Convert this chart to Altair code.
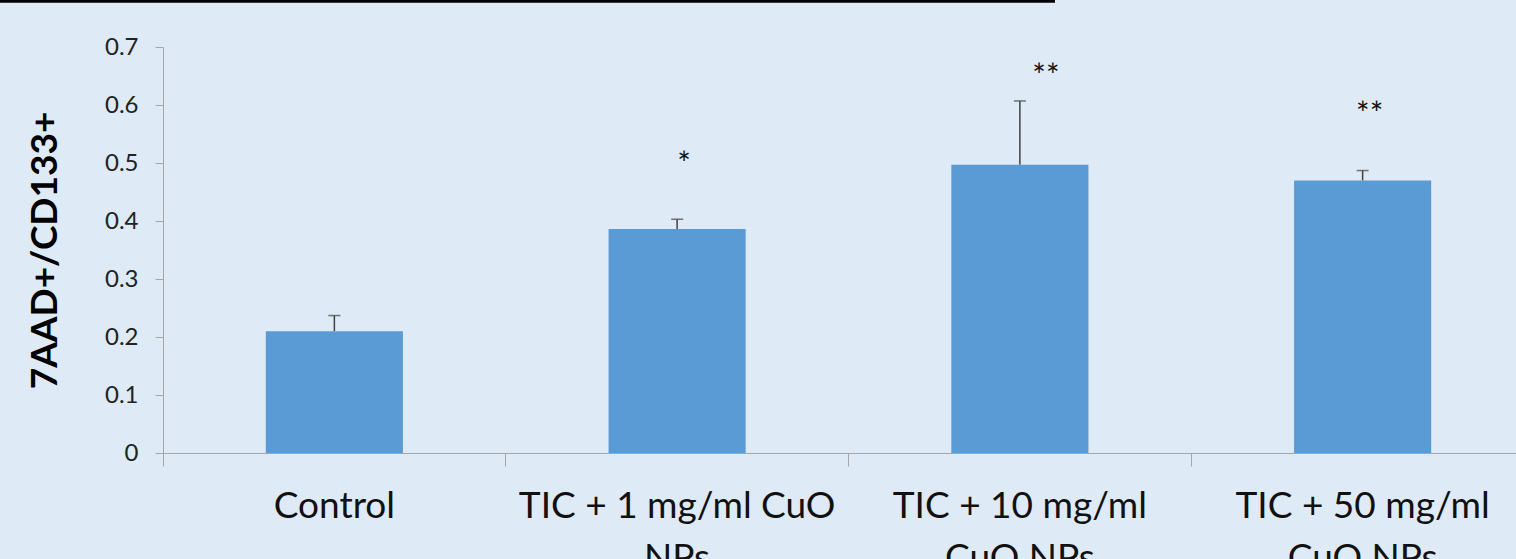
import altair as alt
import pandas as pd

categories = ["Control", "TIC + 1 mg/ml CuO NPs", "TIC + 10 mg/ml CuO NPs", "TIC + 50 mg/ml CuO NPs"]
label_lines = [["Control"], ["TIC + 1 mg/ml CuO", "NPs"], ["TIC + 10 mg/ml", "CuO NPs"], ["TIC + 50 mg/ml", "CuO NPs"]]
values = [0.210, 0.386, 0.497, 0.470]
errors = [0.027, 0.017, 0.110, 0.017]
stars = ["", "*", "**", "**"]
star_y = [None, 0.508, 0.660, 0.595]
star_dx = [0, 7, 26, 7]

df = pd.DataFrame({
    "cat": categories,
    "val": values,
    "hi": [v + e for v, e in zip(values, errors)],
})
sdf = pd.DataFrame({"cat": categories, "star": stars, "sy": star_y, "dx": star_dx}).dropna()

# label expression for multi-line labels
parts = []
for c, lines in zip(categories, label_lines):
    arr = "[" + ",".join("'" + l + "'" for l in lines) + "]"
    parts.append(f"datum.value == '{c}' ? {arr}")
label_expr = " : ".join(parts) + " : datum.value"

FONT = "Lato"
band_total = 1371

x = alt.X("cat:N", sort=categories, title=None,
          scale=alt.Scale(range=[0, band_total], paddingInner=0, paddingOuter=0),
          axis=alt.Axis(labelExpr=label_expr, labelAngle=0, bandPosition=0,
                        tickSize=13, tickColor="#a6a6a6", domainColor="#a6a6a6",
                        labelFont=FONT, labelFontSize=37, labelColor="#111111",
                        labelLineHeight=52, labelBaseline="top", labelPadding=22,
                        labelLimit=600))
y_scale = alt.Scale(domain=[0, 0.7], nice=False)

bars = alt.Chart(df).mark_bar(color="#5b9bd5", width=alt.RelativeBandSize(0.4)).encode(
    x=x,
    y=alt.Y("val:Q", scale=y_scale, title="7AAD+/CD133+",
            axis=alt.Axis(values=[0, 0.1, 0.2, 0.3, 0.4, 0.5, 0.6, 0.7], grid=False,
                          format=".1~f",
                          tickSize=8, tickColor="#a6a6a6", domainColor="#a6a6a6",
                          labelFont=FONT, labelFontSize=24, labelColor="#222222",
                          labelPadding=17,
                          titleFont=FONT, titleFontSize=37, titleFontWeight="bold",
                          titleColor="#000000", titleX=-118, titleY=203,
                          titleBaseline="middle", titleAlign="center", titleAngle=270)),
)

err = alt.Chart(df).mark_rule(color="#404040", strokeWidth=1.5).encode(
    x=alt.X("cat:N", sort=categories), y=alt.Y("val:Q", scale=y_scale), y2="hi:Q")
caps = alt.Chart(df).mark_tick(color="#404040", thickness=1.5, size=12, orient="horizontal").encode(
    x=alt.X("cat:N", sort=categories), y=alt.Y("hi:Q", scale=y_scale))

star_layers = []
for d in sorted(set(sdf["dx"])):
    star_layers.append(
        alt.Chart(sdf[sdf["dx"] == d]).mark_text(font=FONT, fontSize=32, color="#111111",
                                                 baseline="middle", dx=d, dy=7).encode(
            x=alt.X("cat:N", sort=categories), y=alt.Y("sy:Q", scale=y_scale), text="star:N"))

topline = alt.Chart(pd.DataFrame({"a": [0]})).mark_rule(color="#000000", strokeWidth=3.5).encode(
    x=alt.value(-163), x2=alt.value(1055 - 163), y=alt.value(-46))

chart = alt.layer(bars, err, caps, *star_layers, topline).properties(
    width=1353, height=406,
    autosize=alt.AutoSizeParams(type="none"),
    padding={"left": 163, "top": 47, "right": 0, "bottom": 106},
    background="#deeaf6",
).configure_view(stroke=None)

chart.save("out.html", embed_options={"renderer": "svg", "actions": False})
